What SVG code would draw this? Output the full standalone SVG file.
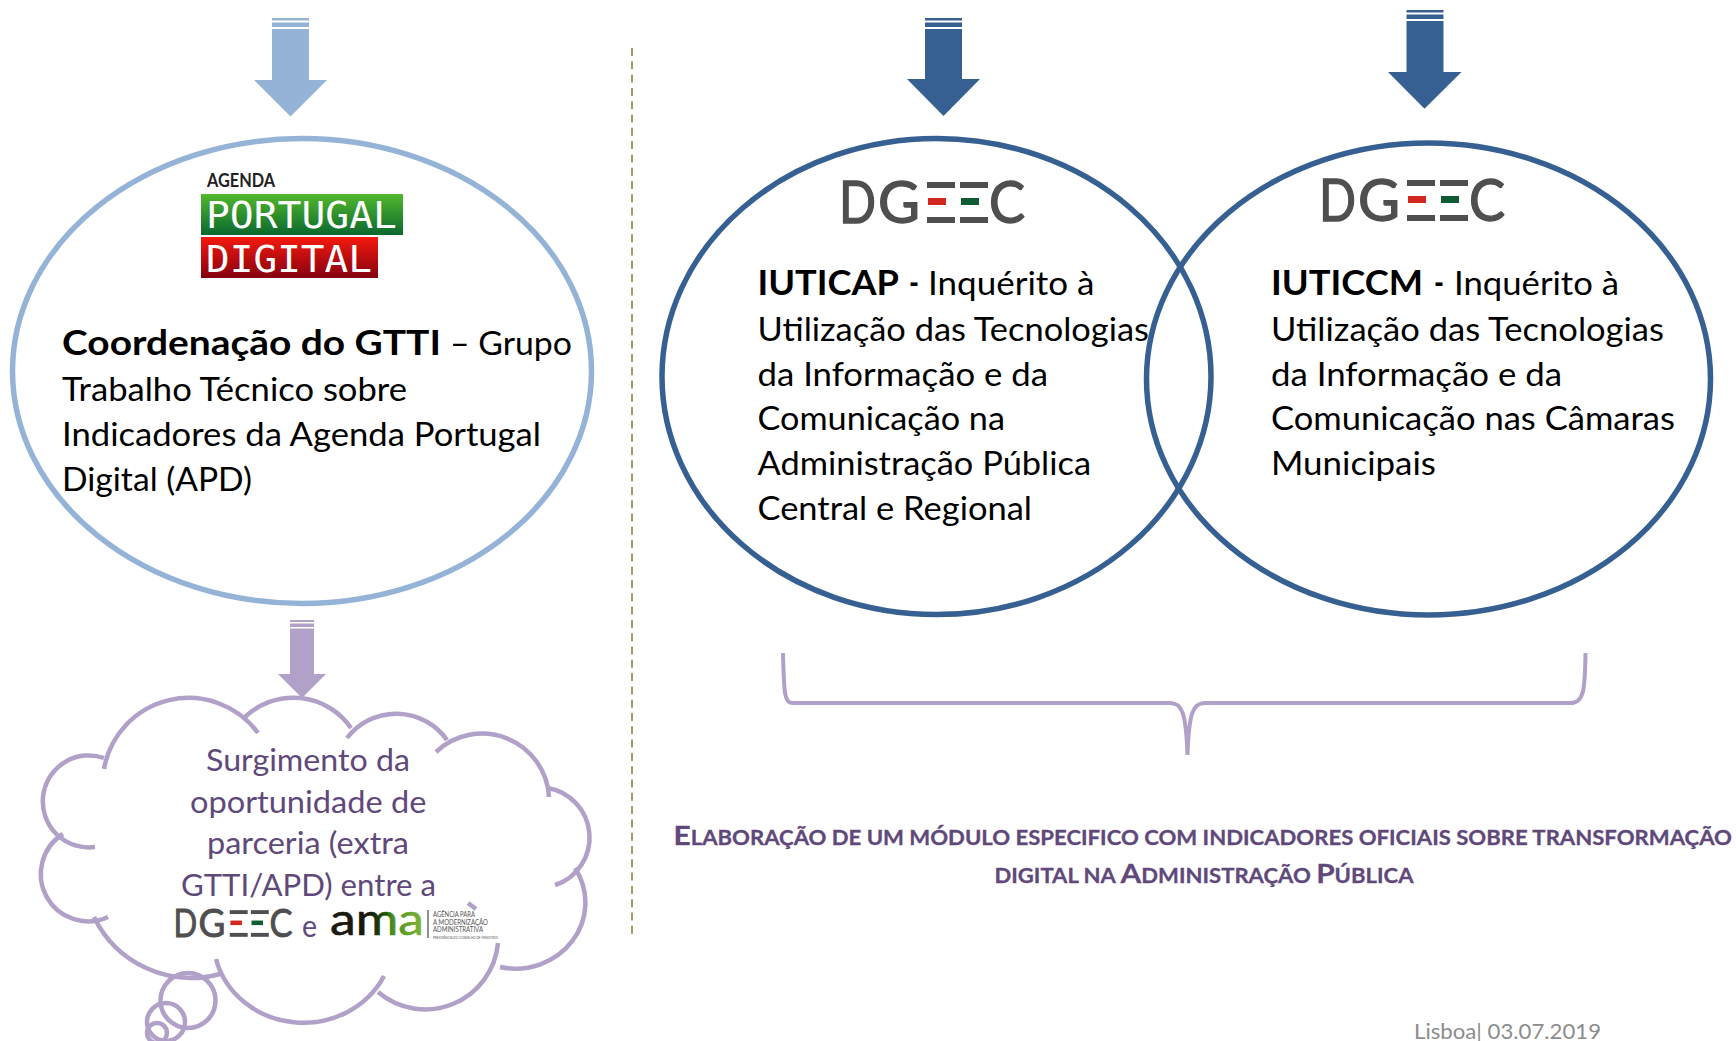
<svg xmlns="http://www.w3.org/2000/svg" width="1736" height="1041" viewBox="0 0 1736 1041">
<style>
text{font-family:Lato,"Liberation Sans",sans-serif}
.n{font-size:32px}
.h{font-size:35px;font-weight:700}
.c{font-size:30px;fill:#5f497a}
.s{font-size:20px;font-weight:700;fill:#5f497a;stroke:#5f497a;stroke-width:.3}
.s tspan.i{font-size:27px}
.bl{fill:#95b3d7}.db{fill:#376092}.pu{fill:#b1a0c7}
.e{fill:none;stroke-width:5.5}
.cl{fill:none;stroke:#b1a0c7;stroke-width:4.5}
.g{fill:#4f4f4f;stroke:#4f4f4f;stroke-width:1.4;font-size:58px}
.w{fill:#fff;font-family:"DejaVu Sans Mono",monospace;font-size:37px}
.am{font-size:7.6px;fill:#555}
</style>
<defs>
<linearGradient id="gg" x1="0" y1="0" x2="0" y2="1"><stop offset="0" stop-color="#52b82c"/><stop offset="1" stop-color="#0a682f"/></linearGradient>
<linearGradient id="gr" x1="0" y1="0" x2="0" y2="1"><stop offset="0" stop-color="#f41a0e"/><stop offset="1" stop-color="#860010"/></linearGradient>
<linearGradient id="ga" x1="0" y1="0" x2="1" y2="0"><stop offset="0" stop-color="#1a1a10"/><stop offset=".42" stop-color="#181808"/><stop offset=".6" stop-color="#1f5a0a"/><stop offset=".66" stop-color="#4a8c1e"/><stop offset="1" stop-color="#7fb834"/></linearGradient>
<g id="dgeec">
<text class="g" x="-4" y="42" textLength="37" lengthAdjust="spacingAndGlyphs">D</text>
<text class="g" x="35" y="42" textLength="42" lengthAdjust="spacingAndGlyphs">G</text>
<rect x="84" y="1" width="28" height="6" fill="#4f4f4f"/><rect x="117" y="1" width="28" height="6" fill="#4f4f4f"/>
<rect x="85" y="17" width="18" height="7" fill="#d0281e"/><rect x="118" y="17" width="18" height="7" fill="#0f5c32"/>
<rect x="84" y="36" width="28" height="6" fill="#4f4f4f"/><rect x="117" y="36" width="28" height="6" fill="#4f4f4f"/>
<text class="g" x="146" y="42" textLength="36" lengthAdjust="spacingAndGlyphs">C</text>
</g>
</defs>
<rect width="1736" height="1041" fill="#fff"/>
<g id="connectors">
<g id="arrow-1" class="bl"><rect x="272" y="18" width="37" height="2.5"/><rect x="272" y="22.5" width="37" height="4.5"/><polygon points="272,29 309,29 309,80 327,80 290.5,116.5 254,80 272,80"/></g>
<g id="arrow-2" class="pu"><rect x="290" y="620" width="24" height="2"/><rect x="290" y="623.5" width="24" height="3.5"/><polygon points="290,628.5 314,628.5 314,674 326,674 302,698 278,674 290,674"/></g>
<g id="arrow-3" class="db"><rect x="925" y="18" width="37" height="2.5"/><rect x="925" y="22.5" width="37" height="4.5"/><polygon points="925,29 962,29 962,79 980,79 943.5,116 907,79 925,79"/></g>
<g id="arrow-4" class="db"><rect x="1406.5" y="10" width="37" height="2.5"/><rect x="1406.5" y="14.5" width="37" height="4.5"/><polygon points="1406.5,21 1443.5,21 1443.5,72 1461.5,72 1424.5,108.7 1388,72 1406.5,72"/></g>
<path id="brace" d="M783 653C784 690 784 703 792 703H1170C1182 703 1186 712 1187.5 755C1189 712 1193 703 1205 703H1570C1584 703 1585 690 1585.5 653" fill="none" stroke="#b1a0c7" stroke-width="4"/>
<line id="divider" x1="632" y1="48" x2="632" y2="935" stroke="#a39c62" stroke-width="2" stroke-dasharray="8 5.3"/>
</g>
<g id="node-gtti">
<ellipse class="e" cx="302" cy="371" rx="289.5" ry="232.5" stroke="#95b3d7"/>
<text x="207" y="187" font-size="19" font-weight="700" fill="#222" textLength="68" lengthAdjust="spacingAndGlyphs">AGENDA</text>
<rect x="201" y="194" width="202" height="41" fill="url(#gg)"/>
<rect x="201" y="237" width="177" height="41" fill="url(#gr)"/>
<text class="w" x="206" y="228" textLength="191" lengthAdjust="spacingAndGlyphs">PORTUGAL</text>
<text class="w" x="206" y="272" textLength="166" lengthAdjust="spacingAndGlyphs">DIGITAL</text>
<text class="h" x="62" y="355" textLength="379" lengthAdjust="spacingAndGlyphs">Coordenação do GTTI</text>
<text class="n" x="450" y="355" textLength="122" lengthAdjust="spacingAndGlyphs">– Grupo</text>
<text class="n" x="62" y="401" textLength="345" lengthAdjust="spacingAndGlyphs">Trabalho Técnico sobre</text>
<text class="n" x="62" y="445.5" textLength="479" lengthAdjust="spacingAndGlyphs">Indicadores da Agenda Portugal</text>
<text class="n" x="62" y="491" textLength="190" lengthAdjust="spacingAndGlyphs">Digital (APD)</text>
</g>
<g id="node-iuticap">
<ellipse class="e" cx="936.5" cy="376.5" rx="274.5" ry="238" stroke="#376092"/>
<use href="#dgeec" x="843" y="181"/>
<text class="h" x="757.5" y="294.5" textLength="141.5" lengthAdjust="spacingAndGlyphs">IUTICAP</text>
<text class="h" x="909" y="294.5" font-size="30" textLength="10" lengthAdjust="spacingAndGlyphs">-</text>
<text class="n" x="928" y="294.5" textLength="166.5" lengthAdjust="spacingAndGlyphs">Inquérito à</text>
<text class="n" x="757.5" y="341" textLength="391.5" lengthAdjust="spacingAndGlyphs">Utilização das Tecnologias</text>
<text class="n" x="757.5" y="386" textLength="290.5" lengthAdjust="spacingAndGlyphs">da Informação e da</text>
<text class="n" x="757.5" y="430" textLength="247.5" lengthAdjust="spacingAndGlyphs">Comunicação na</text>
<text class="n" x="757.5" y="475" textLength="333.5" lengthAdjust="spacingAndGlyphs">Administração Pública</text>
<text class="n" x="757.5" y="519.5" textLength="274.5" lengthAdjust="spacingAndGlyphs">Central e Regional</text>
</g>
<g id="node-iuticcm">
<ellipse class="e" cx="1428.5" cy="379" rx="282" ry="236" stroke="#376092"/>
<use href="#dgeec" x="1323" y="179"/>
<text class="h" x="1271" y="294.5" textLength="152" lengthAdjust="spacingAndGlyphs">IUTICCM</text>
<text class="h" x="1434" y="294.5" font-size="30" textLength="10" lengthAdjust="spacingAndGlyphs">-</text>
<text class="n" x="1454" y="294.5" textLength="165" lengthAdjust="spacingAndGlyphs">Inquérito à</text>
<text class="n" x="1271" y="341" textLength="393" lengthAdjust="spacingAndGlyphs">Utilização das Tecnologias</text>
<text class="n" x="1271" y="386" textLength="291" lengthAdjust="spacingAndGlyphs">da Informação e da</text>
<text class="n" x="1271" y="430" textLength="404" lengthAdjust="spacingAndGlyphs">Comunicação nas Câmaras</text>
<text class="n" x="1271" y="475" textLength="165" lengthAdjust="spacingAndGlyphs">Municipais</text>
</g>
<g id="node-cloud">
<path class="cl" d="M104 769A86 86 0 0 1 258 733"/>
<path class="cl" d="M245 717A70 70 0 0 1 351 728"/>
<path class="cl" d="M347 738A62 62 0 0 1 447 740"/>
<path class="cl" d="M436 752A67 67 0 0 1 549 797"/>
<path class="cl" d="M547 788A50 50 0 0 1 555 885"/>
<path class="cl" d="M575 868A70 66 0 0 1 500 967"/>
<path class="cl" d="M498 943A73 73 0 0 1 378 992"/>
<path class="cl" d="M384 976A90 84 0 0 1 216 959"/>
<path class="cl" d="M220 974A108 108 0 0 1 94 917"/>
<path class="cl" d="M108 917A47.3 47.3 0 0 1 63 834"/>
<path class="cl" d="M95 847A46 46 0 1 1 104 758"/>
<path class="cl" d="M476 909L468 903"/>
<circle class="cl" cx="188" cy="1000.5" r="27.5"/>
<circle class="cl" cx="166" cy="1022" r="19"/>
<circle class="cl" cx="157" cy="1033" r="10"/>
<text class="c" x="206" y="771" textLength="204" lengthAdjust="spacingAndGlyphs">Surgimento da</text>
<text class="c" x="190" y="813" textLength="236.5" lengthAdjust="spacingAndGlyphs">oportunidade de</text>
<text class="c" x="207" y="854" textLength="202" lengthAdjust="spacingAndGlyphs">parceria (extra</text>
<text class="c" x="181" y="896" textLength="255" lengthAdjust="spacingAndGlyphs">GTTI/APD) entre a</text>
<use href="#dgeec" transform="translate(176 909.5) scale(.64 .65)"/>
<text class="c" x="302" y="937" textLength="15" lengthAdjust="spacingAndGlyphs">e</text>
<text x="330" y="935" font-size="44" fill="url(#ga)" stroke="url(#ga)" stroke-width=".6" textLength="94" lengthAdjust="spacingAndGlyphs">ama</text>
<line x1="428" y1="910" x2="428" y2="938" stroke="#222" stroke-width="1"/>
<text class="am" x="433" y="917" textLength="42" lengthAdjust="spacingAndGlyphs">AGÊNCIA PARA</text>
<text class="am" x="433" y="925" textLength="55" lengthAdjust="spacingAndGlyphs">A MODERNIZAÇÃO</text>
<text class="am" x="433" y="932" textLength="50" lengthAdjust="spacingAndGlyphs">ADMINISTRATIVA</text>
<text class="am" x="433" y="939" style="font-size:3.6px" textLength="65" lengthAdjust="spacingAndGlyphs">PRESIDÊNCIA DO CONSELHO DE MINISTROS</text>
</g>
<g id="caption">
<text class="s" x="673.5" y="845" textLength="1058.5" lengthAdjust="spacingAndGlyphs"><tspan class="i">E</tspan>LABORAÇÃO DE UM MÓDULO ESPECIFICO COM INDICADORES OFICIAIS SOBRE TRANSFORMAÇÃO</text>
<text class="s" x="994.5" y="883" textLength="419" lengthAdjust="spacingAndGlyphs">DIGITAL NA <tspan class="i">A</tspan>DMINISTRAÇÃO <tspan class="i">P</tspan>ÚBLICA</text>
</g>
<text id="footer" x="1414" y="1039" font-size="21" fill="#8c8c8c" textLength="187" lengthAdjust="spacingAndGlyphs">Lisboa| 03.07.2019</text>
</svg>
